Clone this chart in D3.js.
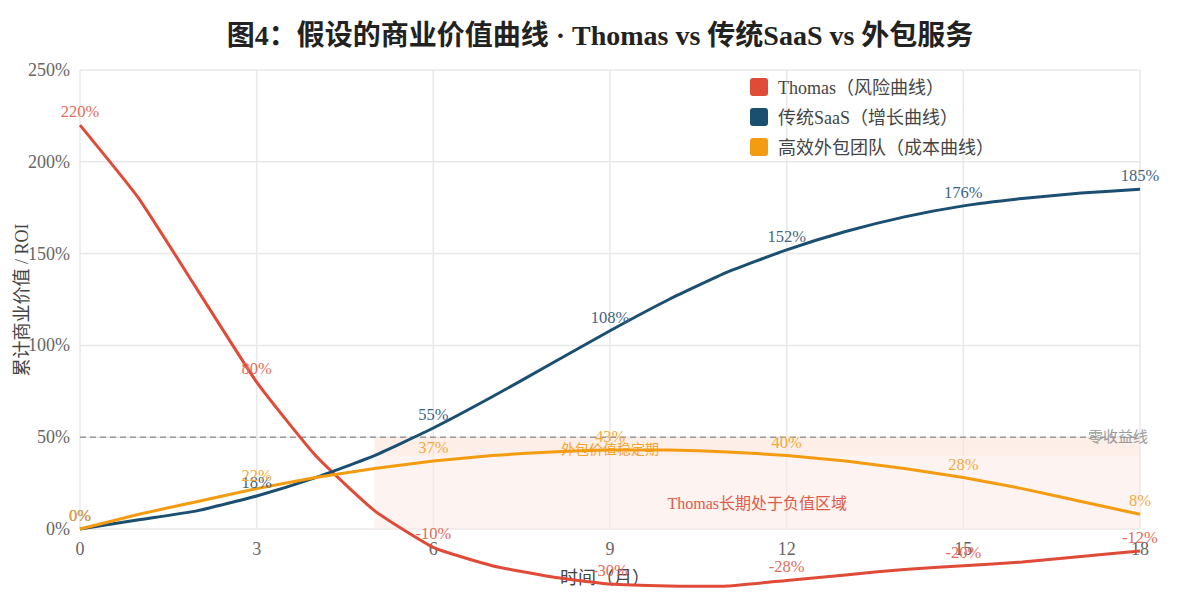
<!DOCTYPE html>
<html><head><meta charset="utf-8">
<script src="https://cdn.jsdelivr.net/npm/d3@7"></script>
<style>
html,body{margin:0;padding:0;background:#fff;}
svg text{font-family:"Liberation Serif","Noto Sans CJK SC",serif;}
</style></head>
<body><svg id="c" width="1200" height="600"></svg>
<script>
const months = d3.range(0, 19);
const thomas = [220,180,130,80,40,10,-10,-20,-26,-30,-31,-31,-28,-25,-22,-20,-18,-15,-12];
const saas   = [0,5,10,18,28,40,55,72,90,108,125,140,152,162,170,176,180,183,185];
const outs   = [0,8,15,22,28,33,37,40,42,43,43,42,40,37,33,28,22,15,8];
const xTicks = [0,3,6,9,12,15,18];
const yTicks = [0,50,100,150,200,250];
const seriesNames = ["Thomas（风险曲线）","传统SaaS（增长曲线）","高效外包团队（成本曲线）"];
const colors = ["#e04b37","#1b4f72","#f39c12"];
const labelColors = ["#e46a5c","#3d6585","#f2aa3e"];
const labelIdx = [0,3,6,9,12,15,18];

const svg = d3.select("#c");
const x = d3.scaleLinear().domain([0,18]).range([80,1140]);
const y = d3.scaleLinear().domain([0,250]).range([529,70]);

// title
svg.append("text").attr("x",600).attr("y",45).attr("text-anchor","middle")
  .attr("font-size",28).attr("font-weight","bold").attr("fill","#222")
  .text("图4：假设的商业价值曲线 · Thomas vs 传统SaaS vs 外包服务");

// grid
const g = svg.append("g");
g.selectAll(".hg").data(yTicks).join("line")
  .attr("x1",80).attr("x2",1140).attr("y1",d=>y(d)).attr("y2",d=>y(d))
  .attr("stroke","#e8e8e8").attr("stroke-width",1.5);
g.selectAll(".vg").data(xTicks).join("line")
  .attr("y1",y(250)).attr("y2",y(0)).attr("x1",d=>x(d)).attr("x2",d=>x(d))
  .attr("stroke","#e8e8e8").attr("stroke-width",1.5);

// shaded regions
svg.append("rect").attr("x",x(5)).attr("y",y(50)).attr("width",x(18)-x(5)).attr("height",y(0)-y(50))
  .attr("fill","#fbe9e5").attr("opacity",0.55);
svg.append("rect").attr("x",x(5)).attr("y",y(50)).attr("width",x(18)-x(5)).attr("height",y(40)-y(50))
  .attr("fill","#f39c12").attr("opacity",0.04);

// zero line (50%)
svg.append("line").attr("x1",80).attr("x2",1140).attr("y1",y(50)).attr("y2",y(50))
  .attr("stroke","#9a9a9a").attr("stroke-width",1.5).attr("stroke-dasharray","6,4");
svg.append("text").attr("x",1118).attr("y",y(50)+5).attr("text-anchor","middle")
  .attr("font-size",15).attr("fill","#9a9a9a").text("零收益线");

// region labels
svg.append("text").attr("x",(x(5)+x(18))/2).attr("y",509).attr("text-anchor","middle")
  .attr("font-size",16).attr("fill","#e05a4a").text("Thomas长期处于负值区域");
svg.append("text").attr("x",x(9)).attr("y",454).attr("text-anchor","middle")
  .attr("font-size",14).attr("fill","#f2a530").text("外包价值稳定期");

// axis tick labels
svg.selectAll(".yt").data(yTicks).join("text")
  .attr("x",70).attr("y",d=>y(d)+6).attr("text-anchor","end")
  .attr("font-size",18).attr("fill","#666").text(d=>d+"%");
svg.selectAll(".xt").data(xTicks).join("text")
  .attr("x",d=>x(d)).attr("y",555).attr("text-anchor","middle")
  .attr("font-size",18).attr("fill","#666").text(d=>d);

// axis titles
svg.append("text").attr("transform","translate(28,300) rotate(-90)").attr("text-anchor","middle")
  .attr("font-size",18).attr("fill","#444").text("累计商业价值 / ROI");
svg.append("text").attr("x",605).attr("y",584).attr("text-anchor","middle")
  .attr("font-size",18).attr("fill","#444").text("时间（月）");

// lines
const all = [thomas, saas, outs];
const line = d3.line().x((d,i)=>x(months[i])).y(d=>y(d)).curve(d3.curveCardinal.tension(0.55));
all.forEach((s,k)=>{
  svg.append("path").attr("d",line(s)).attr("fill","none")
    .attr("stroke",colors[k]).attr("stroke-width",3).attr("stroke-linejoin","round");
});
// labels
all.forEach((s,k)=>{
  svg.selectAll(".lb"+k).data(labelIdx).join("text")
    .attr("x",i=>x(months[i])).attr("y",i=>y(s[i])-8).attr("text-anchor","middle")
    .attr("font-size",16.5).attr("fill",labelColors[k]).text(i=>s[i]+"%");
});

// legend
const lg = svg.append("g");
seriesNames.forEach((n,k)=>{
  lg.append("rect").attr("x",750).attr("y",78+k*30).attr("width",18).attr("height",18).attr("rx",3)
    .attr("fill",colors[k]);
  lg.append("text").attr("x",778).attr("y",94+k*30).attr("font-size",18).attr("fill","#444").text(n);
});
</script></body></html>
